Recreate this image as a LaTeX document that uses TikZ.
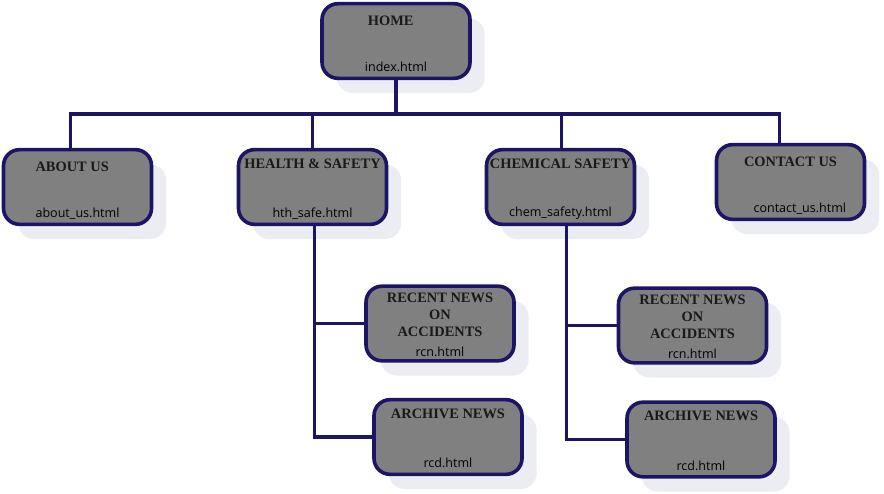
\documentclass[tikz,border=0pt]{standalone}
\usepackage{fontspec}
\newfontfamily\subfont{Open Sans}
\newfontfamily\headfont{Liberation Serif}
\definecolor{Navy}{HTML}{1C1565}
\definecolor{BoxGray}{HTML}{808080}
\definecolor{Haze}{HTML}{ECECF3}
\usetikzlibrary{positioning,calc,shadows}

\begin{document}
\begin{tikzpicture}[x=0.75pt,y=-0.75pt,
 page/.style={rectangle,rounded corners=12pt,draw=Navy,line width=2.7pt,fill=BoxGray,
  minimum width=111pt,minimum height=56pt,inner sep=0pt,
  drop shadow={shadow xshift=11pt,shadow yshift=-11pt,fill=Haze,opacity=1}},
 title/.style={font=\headfont\bfseries\fontsize{10.8}{12.7}\selectfont,text=black!90,align=center,inner sep=0pt},
 file/.style={font=\subfont\fontsize{9.4}{10}\selectfont,inner sep=0pt},
 link/.style={draw=Navy,line width=2.4pt}]
\useasboundingbox (0,0) rectangle (884,493);
% top level
\node[page] (home) at (396,41) {};
\node[page] (about) at (77.5,187) {};
\node[page] (health) at (312.5,187) {};
\node[page] (chem) at (560.5,187) {};
\node[page] (contact) at (790.5,182) {};
% sub pages
\node[page] (rcnA) at (440,323.5) {};
\node[page] (rcdA) at (448,437) {};
\node[page] (rcnB) at (692.5,325.5) {};
\node[page] (rcdB) at (701,439.5) {};
% texts
\node[title,below=10pt of home.north,xshift=-4pt] (homeT) {HOME};
\node[file,above=6pt of home.south] (homeF) {index.html};
\node[title,below=10pt of about.north,xshift=-4pt] (aboutT) {ABOUT US};
\node[file,above=5pt of about.south] (aboutF) {about\_us.html};
\node[title,below=8pt of health.north] (healthT) {HEALTH \& SAFETY};
\node[file,above=5pt of health.south] (healthF) {hth\_safe.html};
\node[title,below=8pt of chem.north] (chemT) {CHEMICAL SAFETY};
\node[file,above=5pt of chem.south] (chemF) {chem\_safety.html};
\node[title,below=10pt of contact.north] (contactT) {CONTACT US};
\node[file,above=5pt of contact.south,xshift=7pt] (contactF) {contact\_us.html};
\node[title,below=6pt of rcnA.north] (rcnAT) {RECENT NEWS\\ON\\ACCIDENTS};
\node[file,above=4pt of rcnA.south] (rcnAF) {rcn.html};
\node[title,below=8pt of rcdA.north] (rcdAT) {ARCHIVE NEWS};
\node[file,above=6pt of rcdA.south] (rcdAF) {rcd.html};
\node[title,below=6pt of rcnB.north] (rcnBT) {RECENT NEWS\\ON\\ACCIDENTS};
\node[file,above=4pt of rcnB.south] (rcnBF) {rcn.html};
\node[title,below=8pt of rcdB.north] (rcdBT) {ARCHIVE NEWS};
\node[file,above=6pt of rcdB.south] (rcdBF) {rcd.html};
% connectors
\coordinate (bus) at (396,114);
\draw[link] (home.south) -- (bus);
\draw[link] ([xshift=-5pt]about.north) |- (bus) -- ([xshift=-8pt]contact.north |- bus) -- ([xshift=-8pt]contact.north);
\draw[link] (health.north) -- (health.north |- bus);
\draw[link] ([xshift=1pt]chem.north) -- ([xshift=1pt]chem.north |- bus);
\draw[link] ([xshift=1.5pt]health.south) |- (rcnA.west);
\draw[link] ([xshift=1.5pt]health.south) |- (rcdA.west);
\draw[link] ([xshift=4.5pt]chem.south) |- (rcnB.west);
\draw[link] ([xshift=4.5pt]chem.south) |- (rcdB.west);
\end{tikzpicture}
\end{document}
